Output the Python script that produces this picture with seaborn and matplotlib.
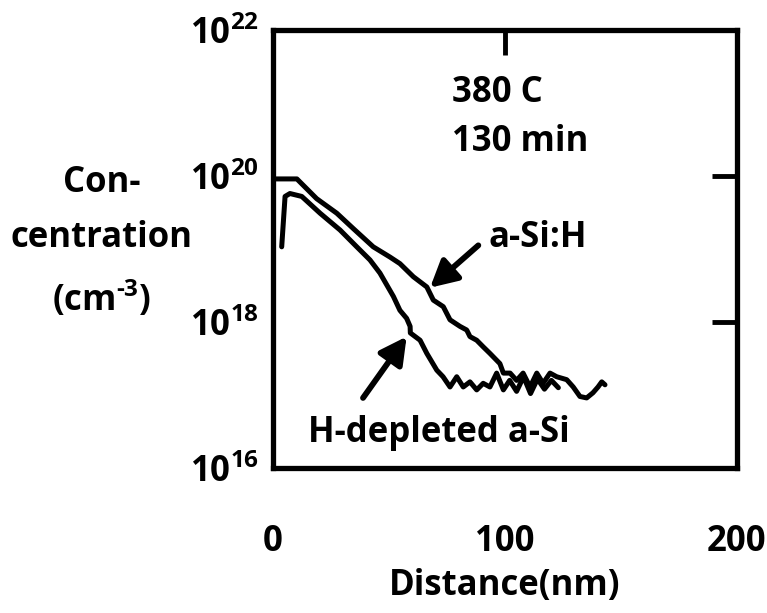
import numpy as np
import pandas as pd
import matplotlib
matplotlib.use("Agg")
import matplotlib.pyplot as plt
import seaborn as sns

# ---- data ----
asih_x = [0, 10.3, 18.8, 27.5, 34.6, 43.2, 50.4, 54.7, 60.5, 66.3, 69.1, 73.4, 76.3,
          80.6, 83.5, 84.9, 87.8, 90.6, 93.5, 97.8, 99.3, 102.2, 105.0, 107.8, 110.8,
          113.7, 116.4, 119.4, 122.3, 126.6, 129.4, 132.3, 135.2, 137.9, 140.1, 141.7, 143.1]
asih_log = [19.96, 19.96, 19.69, 19.49, 19.28, 19.03, 18.89, 18.80, 18.62, 18.48, 18.30,
            18.21, 18.03, 17.94, 17.89, 17.80, 17.75, 17.66, 17.57, 17.43, 17.30, 17.30,
            17.20, 17.30, 17.11, 17.30, 17.16, 17.30, 17.25, 17.21, 17.11, 16.98, 16.96,
            17.03, 17.11, 17.18, 17.14]

hdep_x = [3.75, 5.2, 7.3, 12.4, 20.3, 28.9, 36.1, 41.8, 46.1, 51.9, 54.7, 57.6, 59.1,
          59.2, 63.4, 66.3, 70.6, 73.3, 76.3, 79.2, 82.0, 84.9, 87.8, 90.6, 93.5, 96.4,
          99.3, 102.0, 105.0, 108.0, 111.0, 114.0, 117.0, 120.0, 123.0]
hdep_log = [19.03, 19.72, 19.76, 19.72, 19.49, 19.26, 19.03, 18.85, 18.67, 18.35, 18.16,
            18.05, 17.94, 17.85, 17.75, 17.57, 17.34, 17.25, 17.11, 17.25, 17.11, 17.18,
            17.07, 17.16, 17.11, 17.30, 17.07, 17.20, 17.05, 17.25, 17.02, 17.22, 17.08,
            17.20, 17.10]

x_ticks = [0, 100, 200]
y_ticks = [1e16, 1e18, 1e20, 1e22]
y_tick_labels = ["$10^{16}$", "$10^{18}$", "$10^{20}$", "$10^{22}$"]

df = pd.concat([
    pd.DataFrame({"Distance": asih_x, "Conc": 10.0 ** np.array(asih_log),
                  "Sample": "a-Si:H"}),
    pd.DataFrame({"Distance": hdep_x, "Conc": 10.0 ** np.array(hdep_log),
                  "Sample": "H-depleted a-Si"}),
])

sns.set_style("white")
plt.rcParams["font.family"] = ["Open Sans", "DejaVu Sans"]
plt.rcParams["font.weight"] = "bold"
plt.rcParams["mathtext.fontset"] = "custom"
plt.rcParams["mathtext.rm"] = "Open Sans:bold"
plt.rcParams["mathtext.it"] = "Open Sans:bold"
plt.rcParams["mathtext.bf"] = "Open Sans:bold"
for key in ["text.color", "axes.labelcolor", "xtick.color", "ytick.color",
            "axes.edgecolor"]:
    plt.rcParams[key] = "black"

FS = 25

fig = plt.figure(figsize=(7.67, 6.13), dpi=100)
ax = fig.add_axes([273 / 767, 1 - 468 / 613, 464 / 767, 438 / 613])

sns.lineplot(data=df, x="Distance", y="Conc", hue="Sample", units="Sample",
             estimator=None, sort=False, palette=["black", "black"],
             linewidth=3.6, legend=False, ax=ax)

ax.set_yscale("log")
ax.set_xlim(0, 200)
ax.set_ylim(1e16, 1e22)
ax.set_xticks(x_ticks)
ax.set_xticklabels([str(v) for v in x_ticks], fontsize=FS, fontweight="bold")
ax.set_yticks(y_ticks)
ax.set_yticklabels(y_tick_labels, fontsize=FS)
ax.yaxis.set_minor_locator(matplotlib.ticker.NullLocator())

ax.tick_params(axis="both", which="major", direction="in", length=18, width=3.5,
               top=True, right=True, color="black", labelcolor="black")
ax.tick_params(axis="x", pad=40)
ax.tick_params(axis="y", pad=10)

for s in ax.spines.values():
    s.set_linewidth(3.8)
    s.set_color("black")

ax.set_xlabel("Distance(nm)", fontsize=FS, fontweight="bold", labelpad=6, color="black")
ax.set_ylabel("Con-\ncentration\n(cm$^{\\text{-}3}$)", fontsize=FS, fontweight="bold",
              rotation=0, ha="center", va="center", linespacing=1.7, color="black")
ax.yaxis.set_label_coords(-0.37, 0.515)

ax.text(77.2, 10 ** 21.14, "380 C", fontsize=FS, fontweight="bold", ha="left", va="center")
ax.text(77.2, 10 ** 20.47, "130 min", fontsize=FS, fontweight="bold", ha="left", va="center")
ax.text(92.7, 10 ** 19.15, "a-Si:H", fontsize=FS, fontweight="bold", ha="left", va="center")
ax.text(15.1, 10 ** 16.48, "H-depleted a-Si", fontsize=FS, fontweight="bold",
        ha="left", va="center")

arrow_style = dict(arrowstyle="-|>,head_length=1.6,head_width=0.85", color="black",
                   lw=4.2, shrinkA=0, shrinkB=0)
ax.annotate("", xy=(67.7, 10 ** 18.47), xytext=(88.5, 10 ** 19.05), arrowprops=arrow_style)
ax.annotate("", xy=(57.6, 10 ** 17.80), xytext=(38.8, 10 ** 16.96), arrowprops=arrow_style)

fig.savefig("out.png", dpi=100, facecolor="white")
